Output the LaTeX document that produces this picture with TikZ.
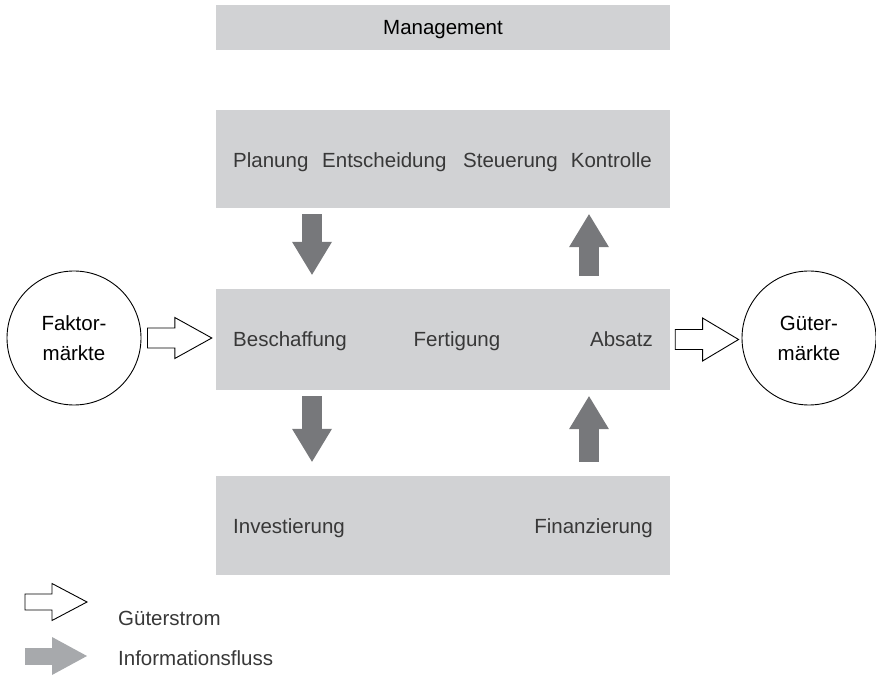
\documentclass[tikz,border=0pt]{standalone}
\usepackage{fontspec}
\setmainfont{Liberation Sans}
\usetikzlibrary{arrows.meta,calc}
\definecolor{boxgray}{HTML}{D1D2D4}
\definecolor{infodark}{HTML}{77787B}
\definecolor{infolight}{HTML}{A7A9AC}
\definecolor{textgray}{HTML}{383838}
\begin{document}
\begin{tikzpicture}[x=1pt,y=-1pt]
		\tikzset{every node/.style = {font=\fontsize{20.5pt}{30pt}\selectfont}}
		\tikzset{panel/.style = {fill=boxgray,minimum width=454pt,inner sep=0pt}}
		\tikzset{market/.style = {shape=circle,draw,line width=0.9pt,minimum size=134pt,inner sep=0pt,align=center,text=black}}
		\tikzset{word/.style = {text=textgray,inner sep=0pt}}
		\tikzset{infoflow/.style = {draw=infodark,line width=20pt,-{Triangle[length=33pt,width=40pt,line width=0pt]}}}
		\tikzset{goodsflow/.style n args = {3}{draw,fill=white,line width=0.9pt,line join=miter,
			to path={let \p1=(\tikztostart), \p2=(\tikztotarget) in
			(\x1,\y1+#1pt) -- (\x2-#3pt,\y1+#1pt) -- (\x2-#3pt,\y1+#2pt) -- (\x2,\y1)
			-- (\x2-#3pt,\y1-#2pt) -- (\x2-#3pt,\y1-#1pt) -- (\x1,\y1-#1pt) -- cycle}}}
		\useasboundingbox (0,0) rectangle (876,676);
		% boxes
		\node[panel,minimum height=45pt,text=black,text height=15pt,text depth=0pt] (mgmt) at (443,27.5) {Management};
		\node[panel,minimum height=98pt] (plan) at (443,159) {};
		\node[panel,minimum height=101pt] (ops) at (443,339.5) {};
		\node[panel,minimum height=99pt] (fin) at (443,525.5) {};
		\node[market] (fakt) at (74,338) {Faktor-\\märkte};
		\node[market] (gut) at (809,338) {Güter-\\märkte};
		% texts
		\node[word,anchor=base west] (plg) at (233,168) {Planung};
		\node[word,anchor=base west] (ent) at (322,168) {Entscheidung};
		\node[word,anchor=base west] (ste) at (463,168) {Steuerung};
		\node[word,anchor=base east] (kon) at (652,168) {Kontrolle};
		\node[word,anchor=base west] (bes) at (233,347) {Beschaffung};
		\node[word,anchor=base] (fer) at (457,347) {Fertigung};
		\node[word,anchor=base east] (abs) at (653,347) {Absatz};
		\node[word,anchor=base west] (inv) at (233,533) {Investierung};
		\node[word,anchor=base east] (fnz) at (653,533) {Finanzierung};
		% information flow
		\coordinate (lx) at (312,0);
		\coordinate (rx) at (589,0);
		\draw[infoflow,shorten <=6pt,shorten >=14pt] (plan.south -| lx) -- (ops.north -| lx);
		\draw[infoflow,shorten <=13pt,shorten >=6pt] (ops.north -| rx) -- (plan.south -| rx);
		\draw[infoflow,shorten <=6pt,shorten >=14pt] (ops.south -| lx) -- (fin.north -| lx);
		\draw[infoflow,shorten <=14pt,shorten >=6pt] (fin.north -| rx) -- (ops.south -| rx);
		% goods flow
		\draw[goodsflow={10}{20.5}{37}] ([xshift=6pt]fakt.east) to ([xshift=-4pt]ops.west);
		\draw[goodsflow={10}{21.5}{36}] ([xshift=5pt]ops.east) to ([xshift=-3pt]gut.west);
		% legend
		\coordinate (g1) at (25,602);
		\coordinate (g2) at (87,602);
		\coordinate (i1) at (25,656);
		\coordinate (i2) at (87,656);
		\draw[goodsflow={8}{18.5}{35}] (g1) to (g2);
		\draw[infoflow,draw=infolight,line width=17pt,-{Triangle[length=35pt,width=38pt,line width=0pt]}] (i1) -- (i2);
		\node[word,anchor=base west] (lgs) at (118,625) {Güterstrom};
		\node[word,anchor=base west] (lif) at (118,665) {Informationsfluss};
	\end{tikzpicture}
\end{document}
